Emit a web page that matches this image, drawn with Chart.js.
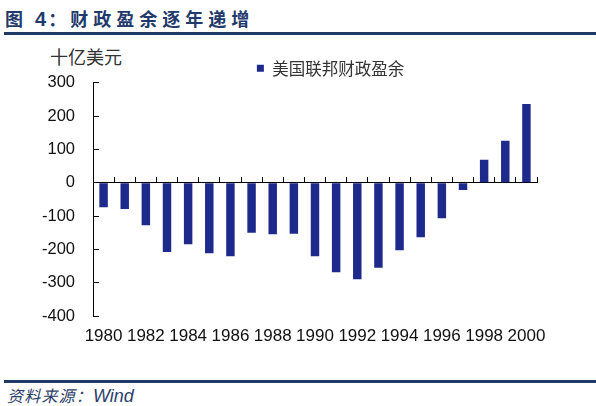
<!DOCTYPE html>
<html>
<head>
<meta charset="utf-8">
<script src="https://cdn.jsdelivr.net/npm/chart.js@4.4.1/dist/chart.umd.min.js"></script>
<style>
	html, body { margin: 0; padding: 0; background: #fff; }
	body { width: 596px; height: 406px; position: relative; overflow: hidden; font-family: "Noto Sans CJK SC", sans-serif; }
	.title { position: absolute; left: 5px; top: 4px; font-size: 18px; font-weight: bold; color: #1f3a6b; letter-spacing: 5px; line-height: 28px; white-space: nowrap; }
	.title .lead { letter-spacing: 4px; }
	.title .num { font-family: "Liberation Sans", Arial, sans-serif; font-size: 20px; letter-spacing: 2px; }
	.title .colon { letter-spacing: 4px; }
	.rule { position: absolute; left: 4px; width: 592px; height: 3px; background: #1f3864; }
	.unit { position: absolute; left: 50px; top: 45px; font-size: 18px; color: #333; line-height: 22px; }
	.source { position: absolute; left: 7px; top: 384px; font-size: 16px; font-style: italic; color: #2c3e6b; line-height: 22px; letter-spacing: 1.2px; white-space: nowrap; }
	.source .en { font-family: "Liberation Sans", Arial, sans-serif; font-size: 18px; letter-spacing: 0; }
	#chart { position: absolute; left: 0; top: 40px; }
</style>
</head>
<body>
<div class="title"><span class="lead">图 </span><span class="num">4</span><span class="colon">：</span>财政盈余逐年递增</div>
<div class="rule" style="top:32px"></div>
<div class="unit">十亿美元</div>
<canvas id="chart" width="596" height="330"></canvas>
<div class="rule" style="top:380px"></div>
<div class="source">资料来源：<span class="en">Wind</span></div>

<script>
// data (billions of US dollars)
const years = ["1980", "1981", "1982", "1983", "1984", "1985", "1986", "1987", "1988", "1989", "1990",
	"1991", "1992", "1993", "1994", "1995", "1996", "1997", "1998", "1999", "2000"];
const surplus = [-74, -79, -128, -208, -185, -212, -221, -150, -155, -153, -221,
	-269, -290, -255, -203, -164, -107, -22, 69, 126, 236];
const yearLabels = ["1980", "1982", "1984", "1986", "1988", "1990", "1992", "1994", "1996", "1998", "2000"];
const yMin = -400;
const yMax = 300;
const yStep = 100;
const seriesName = "美国联邦财政盈余";

// move the legend to where the reference puts it
const legendShift = {
	id: "legendShift",
	afterLayout(chart) {
		const lg = chart.legend;
		const dx = 330.5 - (lg.left + lg.right) / 2;
		lg.left += dx;
		lg.right += dx;
	}
};

const ctx = document.getElementById("chart");

new Chart(ctx, {
	type: "bar",
	data: {
		labels: years,
		datasets: [
			{
				label: seriesName,
				data: surplus,
				backgroundColor: "#1d2a8c",
				borderWidth: 0,
				categoryPercentage: 1,
				barPercentage: 0.4,
			},
		],
	},
	options: {
		responsive: false,
		animation: false,
		layout: { padding: { left: 0, right: 59, top: 0, bottom: 0 } },
		plugins: {
			tooltip: { enabled: false },
			legend: {
				position: "top",
				fullSize: false,
				maxHeight: 42.7,
				labels: {
					boxWidth: 7,
					boxHeight: 7,
					padding: 20,
					color: "#333",
					font: { family: "'Noto Sans CJK SC'", size: 16.5 },
				},
			},
		},
		scales: {
			x: {
				offset: true,
				grid: { display: false, drawTicks: false },
				border: { display: false },
				ticks: {
					autoSkip: false,
					maxRotation: 0,
					padding: 10,
					color: "#111",
					font: { family: "'Liberation Sans', Arial", size: 17 },
					callback: function (value) {
						const l = this.getLabelForValue(value);
						return yearLabels.includes(l) ? l : "";
					},
				},
				afterFit: (scale) => { scale.height = 54; },
			},
			x2: {
				type: "category",
				position: { y: 0 },
				offset: true,
				grid: { offset: true, drawOnChartArea: false, color: "#000", tickLength: -6 },
				border: { display: true, color: "#000", width: 1 },
				ticks: { display: false },
			},
			y: {
				min: yMin,
				max: yMax,
				grid: { drawOnChartArea: false, color: "#000", tickLength: -6 },
				border: { color: "#000", width: 1 },
				ticks: {
					stepSize: yStep,
					padding: 24,
					color: "#111",
					font: { family: "'Liberation Sans', Arial", size: 16.5 },
				},
				afterFit: (scale) => { scale.width = 93; },
			},
		},
	},
	plugins: [legendShift],
});
</script>
</body>
</html>
